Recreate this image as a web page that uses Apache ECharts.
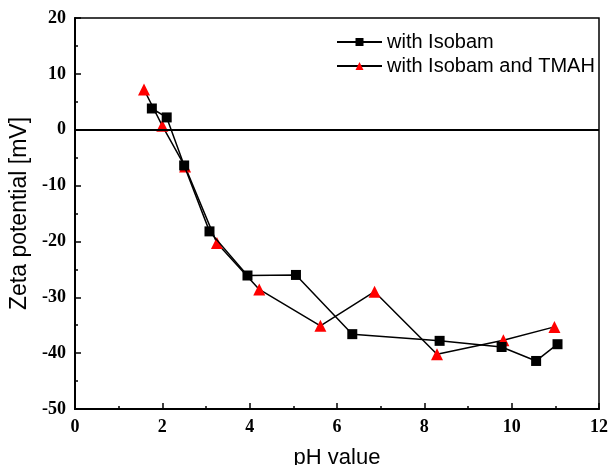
<!DOCTYPE html>
<html>
<head>
<meta charset="utf-8">
<script src="https://cdn.jsdelivr.net/npm/echarts@6/dist/echarts.min.js"></script>
<style>
  html, body { margin: 0; padding: 0; background: #fff; }
  #chart { width: 608px; height: 465px; }
</style>
</head>
<body>
<div id="chart"></div>
<script>
// Zeta potential vs. pH
const isobamPH   = [1.76, 2.10, 2.50, 3.08, 3.95, 5.06, 6.35, 8.35, 9.77, 10.56, 11.05];
const isobamZeta = [3.8, 2.2, -6.4, -18.2, -26.1, -26.0, -36.6, -37.8, -38.9, -41.4, -38.4];

const tmahPH   = [1.58, 2.00, 2.52, 3.25, 4.22, 5.62, 6.86, 8.29, 9.81, 10.98];
const tmahZeta = [7.2, 0.7, -6.6, -20.3, -28.6, -35.1, -29.0, -40.2, -37.7, -35.3];

const seriesNames = ['with Isobam', 'with Isobam and TMAH'];

const pairs = (xs, ys) => xs.map((x, i) => [x, ys[i]]);

const tickFont = {
  fontFamily: 'Liberation Serif',
  fontWeight: 'bold',
  fontSize: 18,
  color: '#000'
};

const chart = echarts.init(document.getElementById('chart'), null, { renderer: 'canvas' });

chart.setOption({
  animation: false,
  backgroundColor: '#fff',
  grid: {
    left: 75, right: 9, top: 18, bottom: 56,
    outerBoundsMode: 'none',
    containLabel: false,
    show: true,
    borderColor: '#000',
    borderWidth: 1.5,
    backgroundColor: 'transparent'
  },
  legend: {
    orient: 'vertical',
    left: 331,
    top: 27,
    itemWidth: 45,
    itemHeight: 10,
    itemGap: 4,
    textStyle: { fontFamily: 'Liberation Sans', fontSize: 20, color: '#000' },
    data: seriesNames
  },
  xAxis: {
    type: 'value',
    min: 0, max: 12, interval: 2,
    name: 'pH value',
    nameLocation: 'middle',
    nameGap: 38,
    nameTextStyle: { fontFamily: 'Liberation Sans', fontSize: 22, color: '#000' },
    axisLine: { onZero: false, lineStyle: { color: '#000', width: 2 } },
    axisTick: { inside: true, length: 6, lineStyle: { color: '#000', width: 1.5 } },
    minorTick: { show: true, splitNumber: 2, length: 3, lineStyle: { color: '#000', width: 1.5 } },
    axisLabel: Object.assign({ margin: 9 }, tickFont),
    splitLine: { show: false }
  },
  yAxis: {
    type: 'value',
    min: -50, max: 20, interval: 10,
    name: 'Zeta potential [mV]',
    nameLocation: 'middle',
    nameGap: 43,
    nameTextStyle: { fontFamily: 'Liberation Sans', fontSize: 23, color: '#000' },
    axisLine: { onZero: false, lineStyle: { color: '#000', width: 2 } },
    axisTick: { inside: true, length: 6, lineStyle: { color: '#000', width: 1.5 } },
    minorTick: { show: true, splitNumber: 2, length: 3, lineStyle: { color: '#000', width: 1.5 } },
    axisLabel: Object.assign({ margin: 9 }, tickFont),
    splitLine: { show: false }
  },
  series: [
    {
      name: seriesNames[0],
      type: 'line',
      data: pairs(isobamPH, isobamZeta),
      symbol: 'rect',
      symbolSize: 10,
      itemStyle: { color: '#000' },
      lineStyle: { color: '#000', width: 1.5 },
      markLine: {
        silent: true,
        symbol: 'none',
        label: { show: false },
        lineStyle: { color: '#000', width: 2, type: 'solid' },
        data: [{ yAxis: 0 }]
      },
      z: 3
    },
    {
      name: seriesNames[1],
      type: 'line',
      data: pairs(tmahPH, tmahZeta),
      symbol: 'triangle',
      symbolSize: 12,
      itemStyle: { color: '#ff0000' },
      lineStyle: { color: '#000', width: 1.5 },
      z: 2
    }
  ]
});
</script>
</body>
</html>
